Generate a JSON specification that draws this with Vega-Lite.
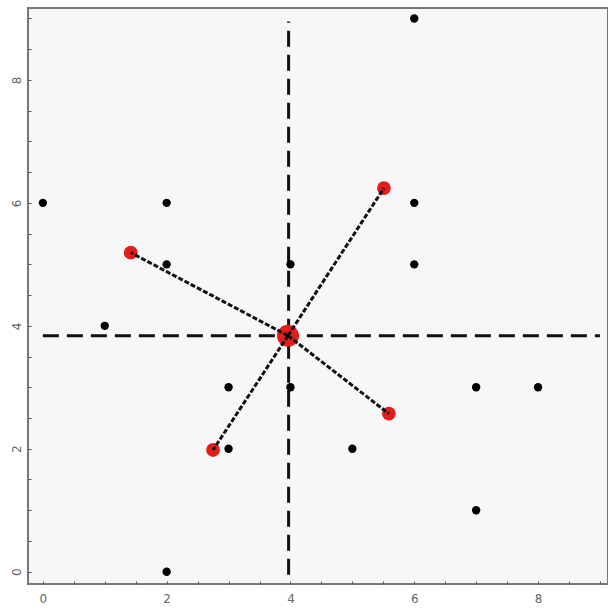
{
  "$schema": "https://vega.github.io/schema/vega-lite/v6.json",
  "width": 580,
  "height": 576,
  "autosize": "none",
  "padding": {"left": 28, "top": 8, "right": 0, "bottom": 29},
  "background": "white",
  "config": {
    "view": {"fill": "#f7f7f7", "stroke": "#777777", "strokeWidth": 2},
    "axis": {"grid": false, "domain": false, "tickColor": "#555555", "tickSize": -3, "labelColor": "#666666", "labelFont": "DejaVu Sans", "labelFontSize": 12, "title": null, "labelPadding": 12}
  },
  "datasets": {
    "pts": [
      {"x": 0, "y": 6, "kind": "black"},
      {"x": 2, "y": 6, "kind": "black"},
      {"x": 2, "y": 5, "kind": "black"},
      {"x": 1, "y": 4, "kind": "black"},
      {"x": 6, "y": 9, "kind": "black"},
      {"x": 6, "y": 6, "kind": "black"},
      {"x": 6, "y": 5, "kind": "black"},
      {"x": 4, "y": 5, "kind": "black"},
      {"x": 3, "y": 3, "kind": "black"},
      {"x": 4, "y": 3, "kind": "black"},
      {"x": 7, "y": 3, "kind": "black"},
      {"x": 8, "y": 3, "kind": "black"},
      {"x": 3, "y": 2, "kind": "black"},
      {"x": 5, "y": 2, "kind": "black"},
      {"x": 7, "y": 1, "kind": "black"},
      {"x": 2, "y": 0, "kind": "black"}
    ],
    "red": [
      {"x": 1.42, "y": 5.19},
      {"x": 5.51, "y": 6.24},
      {"x": 2.75, "y": 1.98},
      {"x": 5.59, "y": 2.57}
    ],
    "center": [{"x": 3.96, "y": 3.84}],
    "spokes": [
      {"x": 3.96, "y": 3.84, "x2": 1.42, "y2": 5.19},
      {"x": 3.96, "y": 3.84, "x2": 5.51, "y2": 6.24},
      {"x": 3.96, "y": 3.84, "x2": 2.75, "y2": 1.98},
      {"x": 3.96, "y": 3.84, "x2": 5.59, "y2": 2.57}
    ],
    "cross": [
      {"x": 3.97, "y": -0.05, "x2": 3.97, "y2": 8.95},
      {"x": 0, "y": 3.84, "x2": 9.0, "y2": 3.84}
    ]
  },
  "encoding": {
    "x": {"field": "x", "type": "quantitative", "scale": {"domain": [-0.24, 9.13], "nice": false, "zero": false},
      "axis": {"values": [0,0.5,1,1.5,2,2.5,3,3.5,4,4.5,5,5.5,6,6.5,7,7.5,8,8.5,9], "labelExpr": "datum.value % 2 == 0 ? format(datum.value, 'd') : ''"}},
    "y": {"field": "y", "type": "quantitative", "scale": {"domain": [-0.2, 9.17], "nice": false, "zero": false},
      "axis": {"values": [0,0.5,1,1.5,2,2.5,3,3.5,4,4.5,5,5.5,6,6.5,7,7.5,8,8.5,9], "labelExpr": "datum.value % 2 == 0 ? format(datum.value, 'd') : ''", "labelAngle": -90, "labelPadding": 8, "labelAlign": "center", "labelBaseline": "bottom"}}
  },
  "layer": [
    {"data": {"name": "cross"}, "mark": {"type": "rule", "color": "#111111", "strokeWidth": 3, "strokeDash": [16, 8]},
      "encoding": {"x2": {"field": "x2"}, "y2": {"field": "y2"}}},
    {"data": {"name": "pts"}, "mark": {"type": "circle", "color": "#000000", "opacity": 1, "size": 70}},
    {"data": {"name": "red"}, "mark": {"type": "circle", "color": "#e31c1c", "opacity": 1, "size": 190}},
    {"data": {"name": "center"}, "mark": {"type": "circle", "color": "#e31c1c", "opacity": 1, "size": 480}},
    {"data": {"name": "spokes"}, "mark": {"type": "rule", "color": "#111111", "strokeWidth": 3, "strokeDash": [5, 2]},
      "encoding": {"x2": {"field": "x2"}, "y2": {"field": "y2"}}}
  ]
}
